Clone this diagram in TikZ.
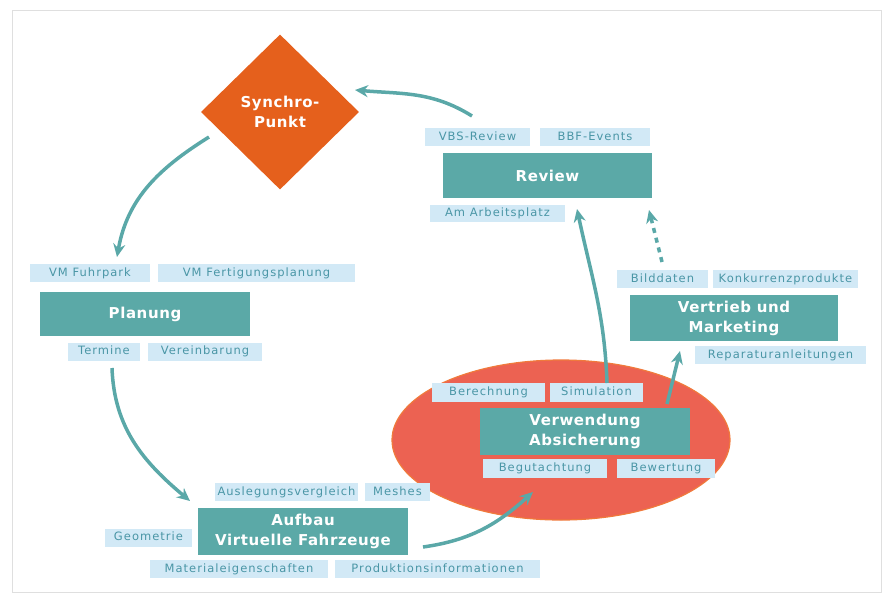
\documentclass[tikz,border=0pt]{standalone}
\usepackage{fontspec}
\setmainfont{DejaVu Sans}
\newfontfamily\lblfont[LetterSpace=9]{DejaVu Sans}
\newfontfamily\boxfont[LetterSpace=4]{DejaVu Sans}
\usetikzlibrary{shapes.geometric,arrows.meta}
\definecolor{tealbox}{HTML}{5BA9A7}
\definecolor{lblbg}{HTML}{D2E9F6}
\definecolor{lbltxt}{HTML}{4A96A6}
\definecolor{synor}{HTML}{E5601C}
\definecolor{ellred}{HTML}{EC6252}
\definecolor{ellline}{HTML}{F07A3C}
\definecolor{arrteal}{HTML}{5AA8A8}
\tikzset{
 lbl/.style={fill=lblbg, text=lbltxt, font=\lblfont\fontsize{11.5}{13}\selectfont, inner sep=0pt, minimum height=18pt, text height=8.5pt, text depth=2pt},
 mainbox/.style={fill=tealbox, text=white, font=\boxfont\fontsize{15}{20}\selectfont\bfseries, inner sep=0pt, align=center},
 flow/.style={draw=arrteal, line width=3.5pt, -{Stealth[length=13pt,width=12pt]}},
}
\begin{document}
\begin{tikzpicture}[x=1pt,y=-1pt]
\useasboundingbox (0,0) rectangle (888,600);
\draw[gray!25, line width=1pt] (12,10) rectangle (881,592);

% ellipse
\node[ellipse, fill=ellred, draw=ellline, line width=1.2pt, minimum width=338pt, minimum height=160pt, inner sep=0pt] (ell) at (561,440) {};

% diamond
\node[diamond, fill=synor, minimum width=158pt, minimum height=155pt, inner sep=0pt, text=white, font=\boxfont\fontsize{15}{20}\selectfont\bfseries, align=center] (sync) at (280,112) {Synchro-\\Punkt};

% Review
\node[mainbox, minimum width=209pt, minimum height=45pt] (review) at (547.5,175.5) {Review};
\node[lbl, minimum width=105pt] (vbs) at (477.5,137) {VBS-Review};
\node[lbl, minimum width=110pt] (bbf) at (595,137) {BBF-Events};
\node[lbl, minimum width=135pt, minimum height=17pt] (arb) at (497.5,213.5) {Am Arbeitsplatz};

% Planung
\node[mainbox, minimum width=210pt, minimum height=44pt] (planung) at (145,314) {Planung};
\node[lbl, minimum width=120pt] (vmf) at (90,273) {VM Fuhrpark};
\node[lbl, minimum width=197pt] (vmfp) at (256.5,273) {VM Fertigungsplanung};
\node[lbl, minimum width=72pt] (termine) at (104,351.5) {Termine};
\node[lbl, minimum width=114pt] (vereinb) at (205,351.5) {Vereinbarung};

% Aufbau
\node[mainbox, minimum width=210pt, minimum height=47pt] (aufbau) at (303,531.5) {Aufbau\\Virtuelle Fahrzeuge};
\node[lbl, minimum width=143pt] (ausl) at (286.5,492) {Auslegungsvergleich};
\node[lbl, minimum width=65pt] (meshes) at (397.5,492) {Meshes};
\node[lbl, minimum width=87pt] (geo) at (148.5,537.5) {Geometrie};
\node[lbl, minimum width=178pt] (mat) at (239,569) {Materialeigenschaften};
\node[lbl, minimum width=205pt] (prod) at (437.5,569) {Produktionsinformationen};

% Verwendung
\node[mainbox, minimum width=210pt, minimum height=47pt] (verw) at (585,431.5) {Verwendung\\Absicherung};
\node[lbl, minimum width=113pt, minimum height=19pt] (ber) at (488.5,392.5) {Berechnung};
\node[lbl, minimum width=93pt, minimum height=19pt] (sim) at (596.5,392.5) {Simulation};
\node[lbl, minimum width=124pt, minimum height=19pt] (beg) at (545,468) {Begutachtung};
\node[lbl, minimum width=98pt, minimum height=19pt] (bew) at (666,468) {Bewertung};

% Vertrieb
\node[mainbox, minimum width=208pt, minimum height=46pt] (vertrieb) at (734,318) {Vertrieb und\\Marketing};
\node[lbl, minimum width=91pt] (bild) at (662.5,279) {Bilddaten};
\node[lbl, minimum width=145pt] (konk) at (785.5,279) {Konkurrenzprodukte};
\node[lbl, minimum width=171pt] (rep) at (780.5,355) {Reparaturanleitungen};

% connector end points
\coordinate (c1s) at (472,116);
\coordinate (c1e) at (355,90);
\coordinate (c2s) at (209,137);
\coordinate (c2e) at (117,257);
\coordinate (c3s) at (112,368);
\coordinate (c3e) at (190,501);
\coordinate (c4s) at (423,547);
\coordinate (c4e) at (533,492);
\coordinate (c5s) at (607,383);
\coordinate (c5e) at (577,209);
\coordinate (c6s) at (667,404);
\coordinate (c6e) at (680,351);
\coordinate (c7s) at (662,262);
\coordinate (c7e) at (649,210);

\draw[flow] (c1s) to[out=148,in=-5] (c1e);
\draw[flow] (c2s) to[out=212,in=80] (c2e);
\draw[flow] (c3s) to[out=-88,in=140] (c3e);
\draw[flow] (c4s) to[out=8,in=222] (c4e);
\draw[flow] (c5s) to[out=92,in=-78] (c5e);
\draw[flow] (c6s) -- (c6e);
\draw[flow, dash pattern=on 5pt off 5pt] (c7s) -- (c7e);
\end{tikzpicture}
\end{document}
